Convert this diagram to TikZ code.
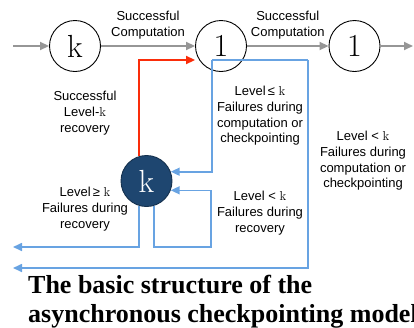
\documentclass[tikz,border=0pt]{standalone}
\usepackage{fontspec}
\setsansfont{Liberation Sans}
\newfontfamily\titlefont{Liberation Serif}
\usetikzlibrary{arrows.meta}

\definecolor{fwdgray}{RGB}{150,150,150}
\definecolor{recred}{RGB}{250,45,10}
\definecolor{failblue}{RGB}{104,163,226}
\definecolor{recnavy}{RGB}{30,70,112}

\tikzset{
  state/.style={circle,draw,line width=0.9pt,minimum size=51pt,inner sep=0pt,
    font=\fontsize{32}{32}\selectfont\rmfamily},
  recstate/.style={state,fill=recnavy,draw=recnavy!70!black,text=white},
  lbl/.style={align=center,font=\fontsize{13}{15.7}\selectfont\sffamily},
  fwd/.style={fwdgray,line width=1.8pt},
  fail/.style={failblue,line width=1.6pt},
}
\newcommand{\kk}{{\rmfamily k}}

\begin{document}
\begin{tikzpicture}[->,>={Triangle[length=9pt,width=8pt]},x=1pt,y=-1pt,
        node distance=146pt]
  \useasboundingbox (0,0) rectangle (414,327);

  \node[state] (k_0) at (75,46) {k};
  \node[state] (one_1) [right of=k_0] {1};
  \node[state,node distance=133.5pt] (one_2) [right of=one_1] {1};
  \node[recstate] (k_r) at (146.5,181) {k};

  \coordinate (start) at (13,46);
  \coordinate (next) at (413,46);
  \coordinate (fork) at (212,60);
  \coordinate (lost_a) at (13,247);
  \coordinate (lost_b) at (13,268);

  % forward computation
  \path[fwd] (start) edge (k_0)
        (k_0) edge node[lbl,above=3pt,text=black] {Successful\\Computation} (one_1)
        (one_1) edge node[lbl,above=3pt,text=black] {Successful\\Computation} (one_2)
        (one_2) edge (next);

  % recovery done
  \draw[recred,line width=1.8pt] (k_r.107) |- ([yshift=-14pt]one_1.west);

  % failures
  \draw[fail] (fork) |- (k_r.21);
  \draw[fail,-] (fork) -- (308,60);
  \draw[fail] (308,60) |- (lost_b);
  \draw[fail] (k_r.-73) |- (211,247) |- (k_r.-21);
  \draw[fail] (k_r.-107) |- (lost_a);

  \node[lbl] (suc_rec) at (85,113) {Successful\\Level-\kk\\recovery};
  \node[lbl] (geq_rec) at (85,209) {Level\,≥ \kk\\Failures during\\recovery};
  \node[lbl] (leq_comp) at (260,116) {Level\,≤ \kk\\Failures during\\computation or\\checkpointing};
  \node[lbl] (lt_rec) at (260,213) {Level < \kk\\Failures during\\recovery};
  \node[lbl] (lt_comp) at (363,161) {Level < \kk\\Failures during\\computation or\\checkpointing};

  \node[anchor=base west,align=left,inner sep=0pt,
        font=\fontsize{26}{29}\selectfont\titlefont\bfseries] (title) at (28,322)
        {The basic structure of the\\asynchronous checkpointing model};
\end{tikzpicture}
\end{document}
